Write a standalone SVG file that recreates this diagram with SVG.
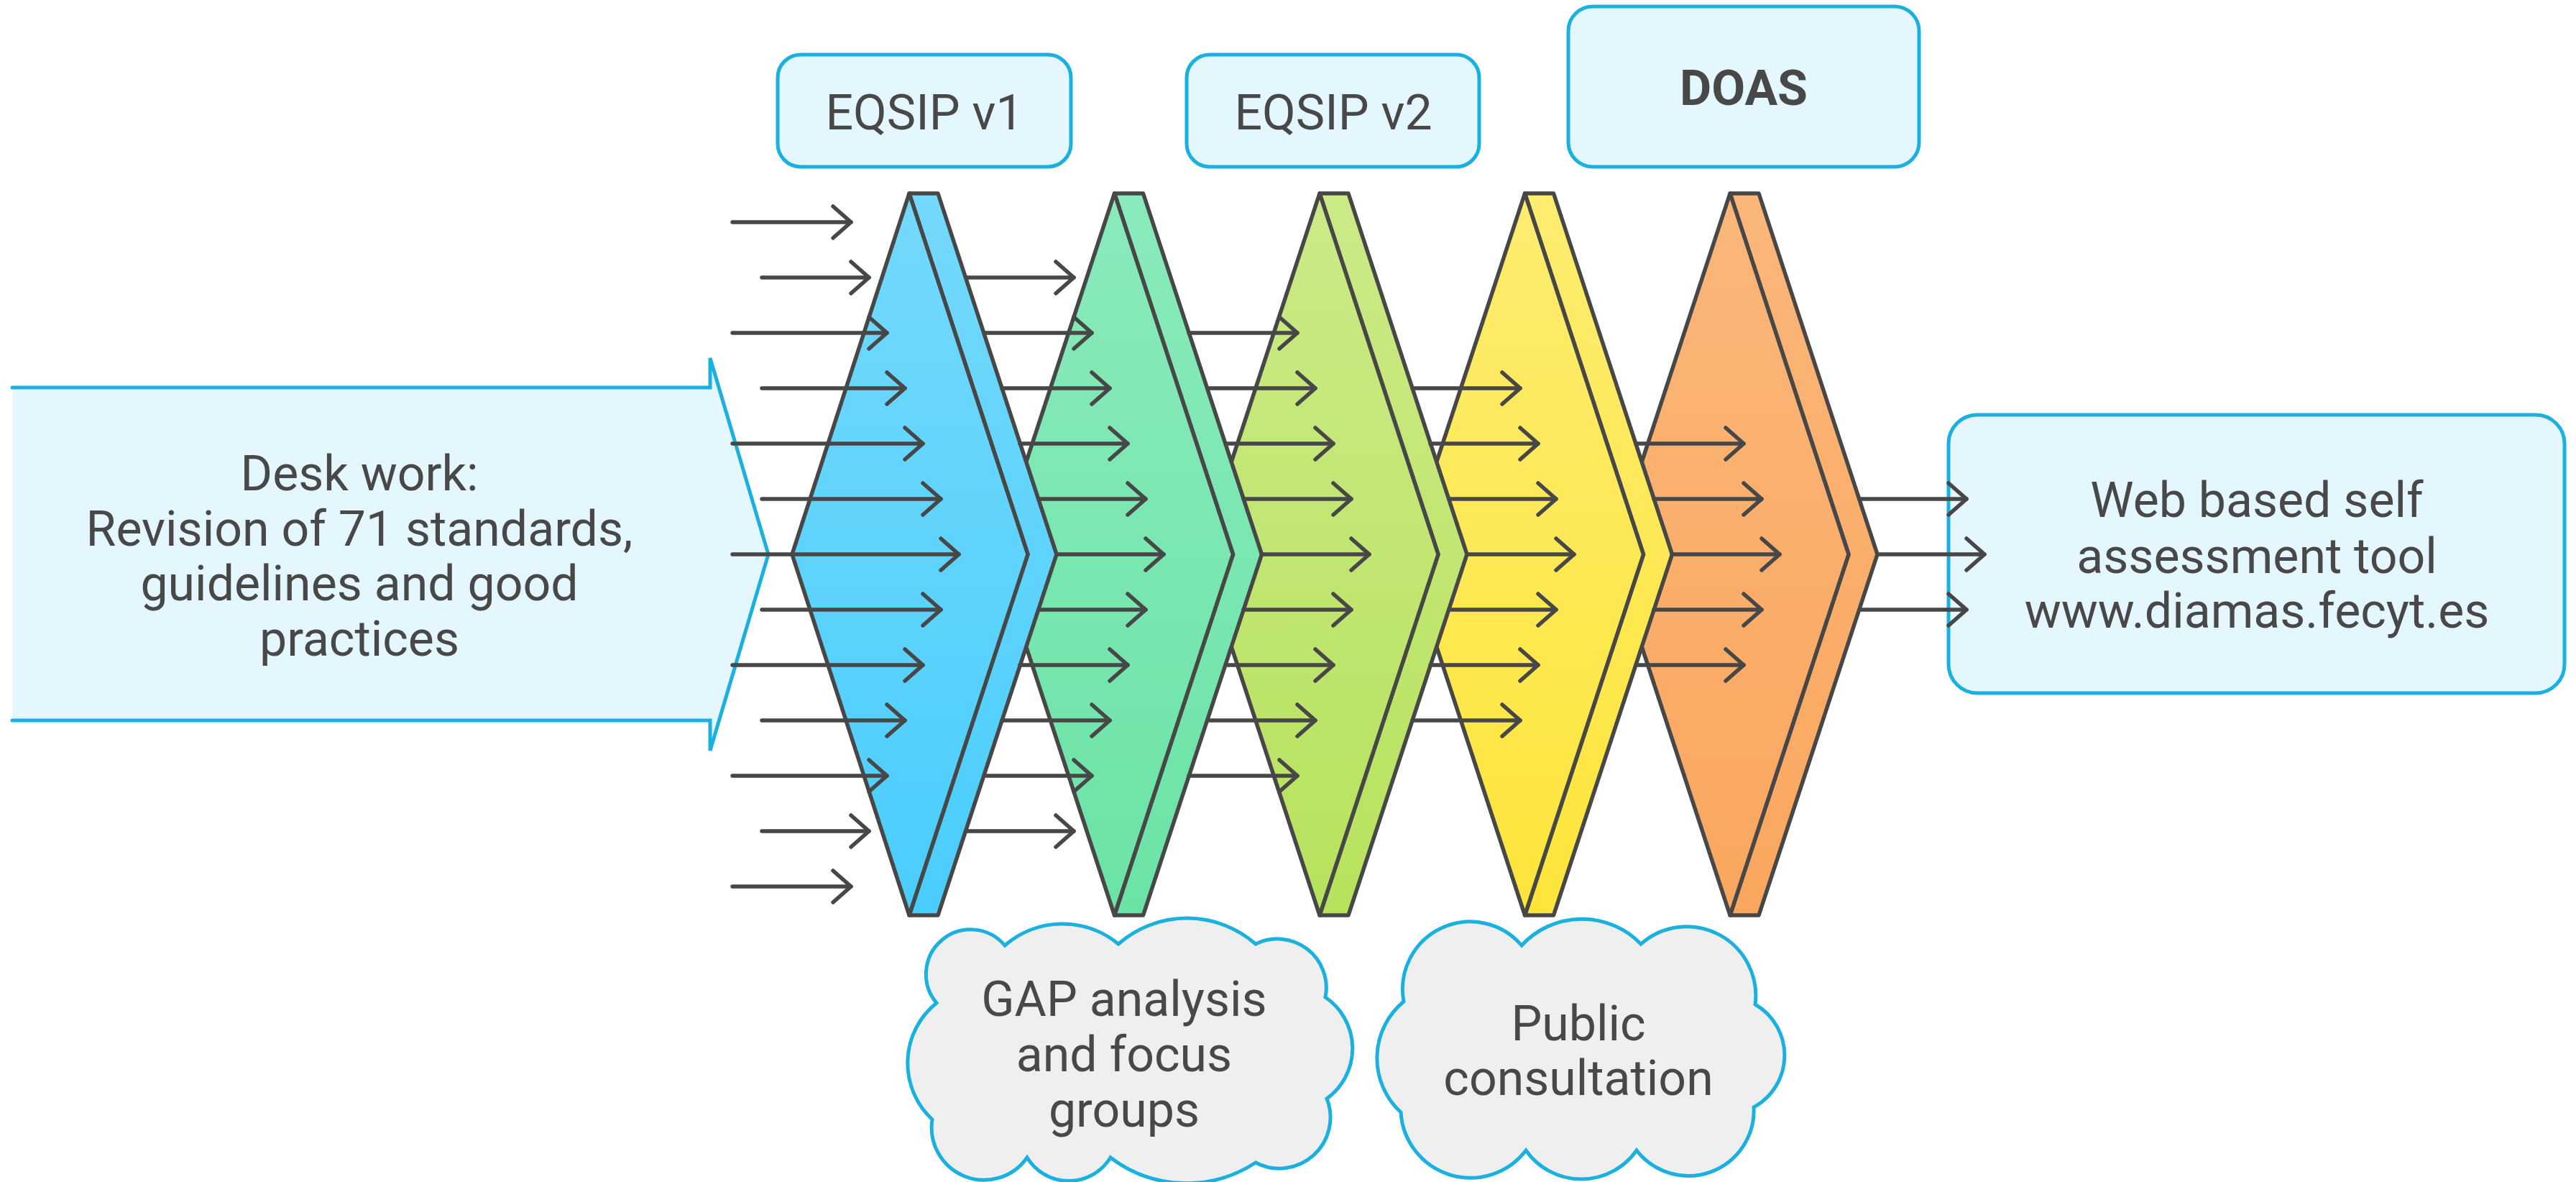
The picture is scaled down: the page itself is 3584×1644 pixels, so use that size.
<svg xmlns="http://www.w3.org/2000/svg" width="3584" height="1644" viewBox="0 0 3584 1644">
<defs>
<style>
.t{font-family:Roboto,"Liberation Sans",sans-serif;font-size:68px;fill:#484848;text-anchor:middle}
.b{font-weight:bold}
.box{fill:#e4f7fe;stroke:#1ab0e0;stroke-width:5}
.cloud{fill:#efefef;stroke:#1ab0e0;stroke-width:5}
.dia{stroke:#474747;stroke-width:5.5;stroke-linejoin:round}
.conn path{fill:none;stroke:#474747;stroke-width:5.5;stroke-linecap:round;marker-end:url(#ah)}
</style>
<marker id="ah" viewBox="-30 -26 34 52" refX="0" refY="0" markerWidth="34" markerHeight="52" markerUnits="userSpaceOnUse" orient="auto">
<path d="M-25,-22 L0,0 L-25,22" fill="none" stroke="#474747" stroke-width="5.5" stroke-linecap="round" stroke-linejoin="round"/>
</marker>
<linearGradient id="gBlue" x1="0" y1="0" x2="0" y2="1"><stop offset="0" stop-color="#74d9fc"/><stop offset="1" stop-color="#4acdfc"/></linearGradient>
<linearGradient id="gGreen" x1="0" y1="0" x2="0" y2="1"><stop offset="0" stop-color="#8aeabb"/><stop offset="1" stop-color="#6be3a6"/></linearGradient>
<linearGradient id="gLime" x1="0" y1="0" x2="0" y2="1"><stop offset="0" stop-color="#cbea88"/><stop offset="1" stop-color="#b7e25c"/></linearGradient>
<linearGradient id="gYellow" x1="0" y1="0" x2="0" y2="1"><stop offset="0" stop-color="#fdec70"/><stop offset="1" stop-color="#fde53a"/></linearGradient>
<linearGradient id="gOrange" x1="0" y1="0" x2="0" y2="1"><stop offset="0" stop-color="#fbb67a"/><stop offset="1" stop-color="#f9a75e"/></linearGradient>
</defs>

<g id="desk-work">
<polygon points="17,539 988,539 988,498 1069,771 988,1044 988,1002 17,1002" fill="#e4f7fe"/>
<path d="M17,539 H988 V498 L1069,771 L988,1044 V1002 H17" fill="none" stroke="#1ab0e0" stroke-width="5" stroke-linecap="round" stroke-linejoin="miter"/>
<text class="t" x="500" y="682">Desk work:</text>
<text class="t" x="500" y="759">Revision of 71 standards,</text>
<text class="t" x="500" y="835">guidelines and good</text>
<text class="t" x="500" y="912">practices</text>
</g>

<g id="web-tool">
<rect class="box" x="2711" y="577" width="857" height="387" rx="40"/>
<text class="t" x="3140" y="719">Web based self</text>
<text class="t" x="3140" y="797">assessment tool</text>
<text class="t" x="3140" y="873">www.diamas.fecyt.es</text>
</g>

<g id="eqsip-v1">
<rect class="box" x="1082" y="76" width="408" height="156" rx="32"/>
<text class="t" x="1286" y="180">EQSIP v1</text>
</g>
<g id="eqsip-v2">
<rect class="box" x="1651" y="76" width="407" height="156" rx="32"/>
<text class="t" x="1855" y="180">EQSIP v2</text>
</g>
<g id="doas">
<rect class="box" x="2182" y="9" width="488" height="223" rx="34"/>
<text class="t b" x="2426" y="146">DOAS</text>
</g>

<g id="stage-orange">
<polygon class="dia" fill="url(#gOrange)" points="2407,269 2447,269 2612,771 2447,1273 2407,1273 2572,771"/>
<polygon class="dia" fill="url(#gOrange)" points="2407,269 2572,771 2407,1273 2242,771"/>
</g>
<g id="stage-yellow">
<polygon class="dia" fill="url(#gYellow)" points="2121.5,269 2161.5,269 2326.5,771 2161.5,1273 2121.5,1273 2286.5,771"/>
<polygon class="dia" fill="url(#gYellow)" points="2121.5,269 2286.5,771 2121.5,1273 1956.5,771"/>
</g>
<g id="stage-lime">
<polygon class="dia" fill="url(#gLime)" points="1836,269 1876,269 2041,771 1876,1273 1836,1273 2001,771"/>
<polygon class="dia" fill="url(#gLime)" points="1836,269 2001,771 1836,1273 1671,771"/>
</g>
<g id="stage-green">
<polygon class="dia" fill="url(#gGreen)" points="1550.5,269 1590.5,269 1755.5,771 1590.5,1273 1550.5,1273 1715.5,771"/>
<polygon class="dia" fill="url(#gGreen)" points="1550.5,269 1715.5,771 1550.5,1273 1385.5,771"/>
</g>
<g id="stage-blue">
<polygon class="dia" fill="url(#gBlue)" points="1265,269 1305,269 1470,771 1305,1273 1265,1273 1430,771"/>
<polygon class="dia" fill="url(#gBlue)" points="1265,269 1430,771 1265,1273 1102,771"/>
</g>

<g id="gap-analysis">
<path class="cloud" d="M1303,1395 A62,62 0 0 1 1398,1315 A122,122 0 0 1 1556,1313 A145,145 0 0 1 1747,1313 A68,68 0 0 1 1844,1387 A86,86 0 0 1 1846,1528 A71,71 0 0 1 1747,1617 A175,175 0 0 1 1545,1610 A68,68 0 0 1 1429,1610 A73,73 0 0 1 1297,1557 A107,107 0 0 1 1303,1395 Z"/>
<text class="t" x="1564" y="1413">GAP analysis</text>
<text class="t" x="1564" y="1490">and focus</text>
<text class="t" x="1564" y="1567">groups</text>
</g>
<g id="public-consultation">
<path class="cloud" d="M1953,1393 A94,94 0 0 1 2117,1315 A114,114 0 0 1 2283,1313 A96,96 0 0 1 2442,1397 A82,82 0 0 1 2440,1540 A91,91 0 0 1 2277,1600 A94,94 0 0 1 2123,1600 A97,97 0 0 1 1949,1547 A102,102 0 0 1 1953,1393 Z"/>
<text class="t" x="2196" y="1447">Public</text>
<text class="t" x="2196" y="1523">consultation</text>
</g>

<g id="connectors" class="conn">
<path d="M1019,309 H1184"/>
<path d="M1060,386 H1209"/>
<path d="M1019,463 H1234"/>
<path d="M1060,540 H1259"/>
<path d="M1019,617 H1284"/>
<path d="M1060,694 H1309"/>
<path d="M1019,771 H1334"/>
<path d="M1060,848 H1309"/>
<path d="M1019,925 H1284"/>
<path d="M1060,1002 H1259"/>
<path d="M1019,1079 H1234"/>
<path d="M1060,1156 H1209"/>
<path d="M1019,1233 H1184"/>

<path d="M1344,386 H1494"/>
<path d="M1369,463 H1519"/>
<path d="M1394,540 H1544"/>
<path d="M1419,617 H1569"/>
<path d="M1445,694 H1594"/>
<path d="M1470,771 H1619"/>
<path d="M1445,848 H1594"/>
<path d="M1419,925 H1569"/>
<path d="M1394,1002 H1544"/>
<path d="M1369,1079 H1519"/>
<path d="M1344,1156 H1494"/>

<path d="M1654,463 H1805"/>
<path d="M1680,540 H1830"/>
<path d="M1705,617 H1855"/>
<path d="M1730,694 H1880"/>
<path d="M1755,771 H1905"/>
<path d="M1730,848 H1880"/>
<path d="M1705,925 H1855"/>
<path d="M1680,1002 H1830"/>
<path d="M1654,1079 H1805"/>

<path d="M1965,540 H2115"/>
<path d="M1990,617 H2140"/>
<path d="M2016,694 H2165"/>
<path d="M2041,771 H2190"/>
<path d="M2016,848 H2165"/>
<path d="M1990,925 H2140"/>
<path d="M1965,1002 H2115"/>

<path d="M2276,617 H2426"/>
<path d="M2301,694 H2451"/>
<path d="M2326,771 H2476"/>
<path d="M2301,848 H2451"/>
<path d="M2276,925 H2426"/>

<path d="M2587,694 H2736"/>
<path d="M2612,771 H2761"/>
<path d="M2587,848 H2736"/>
</g>
</svg>
